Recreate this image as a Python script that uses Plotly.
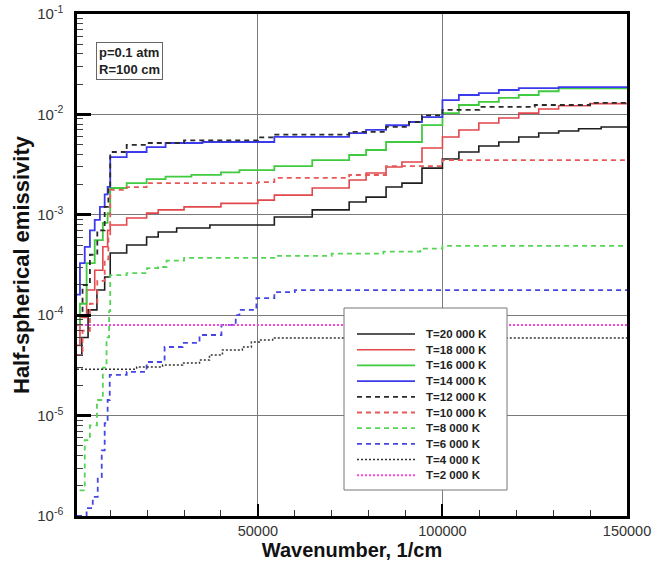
import plotly.graph_objects as go

# Half-spherical emissivity of a plasma slab (p = 0.1 atm, R = 100 cm)
# Each series is a step function: value holds from one wavenumber to the next.

t20_x = [1000, 2300, 4000, 6400, 8500, 10000, 14460, 19860, 23000, 28000, 37000, 54460, 64730,
         74730, 79320, 84730, 89030, 94460, 100000, 104460, 109860, 115270, 120680, 126080,
         131490, 136890, 143000, 150000]
t20_y = [4.0e-5, 6.0e-5, 1.13e-4, 1.78e-4, 2.4e-4, 4.17e-4, 5.0e-4, 6.0e-4, 6.74e-4, 7.39e-4,
         7.91e-4, 9.51e-4, 1.12e-3, 1.34e-3, 1.50e-3, 1.89e-3, 2.07e-3, 2.92e-3, 3.59e-3,
         4.22e-3, 4.84e-3, 5.31e-3, 5.96e-3, 6.53e-3, 6.84e-3, 7.2e-3, 7.49e-3, 7.49e-3]

t18_x = [1000, 1800, 3600, 5800, 8000, 9300, 10000, 14460, 19860, 23000, 30000, 40000, 50000,
         54460, 64730, 74730, 79320, 84730, 89030, 94460, 100000, 104460, 109860, 115270,
         120680, 126080, 131490, 140000, 150000]
t18_y = [5e-5, 9.5e-5, 1.78e-4, 2.8e-4, 4.8e-4, 7.0e-4, 7.91e-4, 9.29e-4, 1.04e-3, 1.12e-3,
         1.2e-3, 1.3e-3, 1.40e-3, 1.57e-3, 1.85e-3, 2.22e-3, 2.61e-3, 2.99e-3, 3.36e-3, 4.62e-3,
         5.96e-3, 7.0e-3, 8.2e-3, 9.2e-3, 1.03e-2, 1.13e-2, 1.22e-2, 1.28e-2, 1.28e-2]

t16_x = [1000, 1800, 3600, 5800, 8000, 9300, 10000, 14460, 19860, 25000, 32000, 40000, 45000,
         54460, 64730, 74730, 79320, 84730, 94460, 100000, 104460, 109860, 115270, 120680,
         126080, 131490, 150000]
t16_y = [8e-5, 1.3e-4, 3.3e-4, 5.6e-4, 8.3e-4, 1.04e-3, 1.85e-3, 2.07e-3, 2.27e-3, 2.4e-3,
         2.5e-3, 2.65e-3, 2.79e-3, 3.06e-3, 3.51e-3, 3.94e-3, 4.42e-3, 5.31e-3, 7.83e-3,
         1.03e-2, 1.24e-2, 1.33e-2, 1.46e-2, 1.56e-2, 1.70e-2, 1.82e-2, 1.82e-2]

t14_x = [1000, 1800, 3100, 4500, 5800, 7200, 8500, 9300, 10000, 14460, 19860, 25000, 35000,
         54460, 74730, 79320, 84730, 90950, 94460, 100000, 104460, 109860, 115270, 120680,
         131490, 150000]
t14_y = [1.6e-4, 3.3e-4, 4.8e-4, 7.0e-4, 8.9e-4, 1.2e-3, 1.6e-3, 1.9e-3, 3.76e-3, 4.22e-3,
         4.73e-3, 5.19e-3, 5.31e-3, 5.96e-3, 6.5e-3, 7.0e-3, 7.8e-3, 8.4e-3, 9.4e-3, 1.39e-2,
         1.56e-2, 1.63e-2, 1.75e-2, 1.83e-2, 1.87e-2, 1.87e-2]

t12_x = [1000, 2500, 4500, 6500, 8500, 9500, 10000, 14460, 19860, 30000, 50000, 54460, 74730,
         84730, 90950, 94460, 100000, 110000, 125000, 140000, 150000]
t12_y = [1.0e-4, 2e-4, 4e-4, 7e-4, 1.2e-3, 1.8e-3, 4.22e-3, 4.96e-3, 5.19e-3, 5.5e-3, 5.9e-3,
         6.3e-3, 6.7e-3, 7.5e-3, 8.4e-3, 9.8e-3, 1.11e-2, 1.19e-2, 1.24e-2, 1.3e-2, 1.3e-2]

t10_x = [1000, 2500, 4500, 6500, 8500, 9500, 10000, 14460, 19860, 50000, 54460, 74730, 84730,
         100000, 150000]
t10_y = [4e-5, 7e-5, 1.3e-4, 2.2e-4, 3.6e-4, 6e-4, 1.77e-3, 1.89e-3, 2.07e-3, 2.12e-3, 2.33e-3,
         2.49e-3, 3.06e-3, 3.51e-3, 3.51e-3]

t8_x = [1700, 3100, 4500, 6400, 8000, 9000, 9700, 10000, 14460, 20000, 23000, 25270, 30000,
        54460, 70000, 84000, 94000, 100000, 150000]
t8_y = [1.8e-6, 5.7e-6, 8e-6, 1.43e-5, 3.0e-5, 6.0e-5, 1.1e-4, 2.51e-4, 2.63e-4, 2.95e-4,
        3.02e-4, 3.5e-4, 3.72e-4, 3.9e-4, 4.1e-4, 4.3e-4, 4.6e-4, 4.9e-4, 4.9e-4]

t6_x = [1000, 3600, 5270, 6620, 7700, 8500, 9300, 9865, 14460, 19860, 24730, 29600, 34190,
        40130, 44000, 45000, 49600, 54460, 60000, 150000]
t6_y = [1e-6, 1.2e-6, 1.55e-6, 2.44e-6, 4.5e-6, 8.4e-6, 1.43e-5, 2.54e-5, 2.72e-5, 3.42e-5,
        4.82e-5, 5.3e-5, 6.35e-5, 8.0e-5, 1.0e-4, 1.13e-4, 1.48e-4, 1.70e-4, 1.78e-4, 1.78e-4]

t4_x = [1000, 17160, 24190, 29600, 34190, 36890, 40400, 45800, 48240, 50410, 54000, 150000]
t4_y = [2.9e-5, 3.05e-5, 3.19e-5, 3.34e-5, 3.58e-5, 4.02e-5, 4.5e-5, 4.82e-5, 5.41e-5, 5.66e-5,
        5.93e-5, 5.93e-5]

t2_x = [1000, 150000]
t2_y = [8e-5, 8e-5]

labels = ["T=20 000 K", "T=18 000 K", "T=16 000 K", "T=14 000 K", "T=12 000 K",
          "T=10 000 K", "T=8 000 K", "T=6 000 K", "T=4 000 K", "T=2 000 K"]

x_ticks = [50000, 100000, 150000]
x_ticktext = ["50000", "100000", "150000"]
y_ticks = [1e-6, 1e-5, 1e-4, 1e-3, 1e-2, 1e-1]
y_ticktext = ["10<sup>-6</sup>", "10<sup>-5</sup>", "10<sup>-4</sup>", "10<sup>-3</sup>",
              "10<sup>-2</sup>", "10<sup>-1</sup>"]

series = [(t20_x, t20_y), (t18_x, t18_y), (t16_x, t16_y), (t14_x, t14_y), (t12_x, t12_y),
          (t10_x, t10_y), (t8_x, t8_y), (t6_x, t6_y), (t4_x, t4_y), (t2_x, t2_y)]

styles = [
    dict(color="#1e1e1e", width=1.6, dash="solid"),
    dict(color="#e2474b", width=1.6, dash="solid"),
    dict(color="#3fca3f", width=1.8, dash="solid"),
    dict(color="#3b3bec", width=1.8, dash="solid"),
    dict(color="#2a2a2a", width=1.8, dash="5px,4px"),
    dict(color="#e85858", width=1.8, dash="5px,4px"),
    dict(color="#55d455", width=1.8, dash="5px,4px"),
    dict(color="#4646e4", width=1.8, dash="5px,4px"),
    dict(color="#333333", width=1.5, dash="2px,2px"),
    dict(color="#ff44dd", width=2.0, dash="2px,2px"),
]

FONT = "Liberation Sans, Arial, sans-serif"

fig = go.Figure()
for (xs, ys), name, st in zip(series, labels, styles):
    fig.add_trace(go.Scatter(x=xs, y=ys, mode="lines", name=name, line_shape="hv",
                             line=st, showlegend=False))

# Plot-area geometry in pixels (used for the legend box and annotation)
W, H = 659, 574
L, R, T, B = 77, 32, 14, 58
pw, ph = W - L - R, H - T - B


def px_x(p):
    return (p - L) / pw


def px_y(p):
    return (H - B - p) / ph


shapes = []
annotations = []

# legend frame
shapes.append(dict(type="rect", xref="paper", yref="paper",
                   x0=px_x(344), x1=px_x(507), y0=px_y(490), y1=px_y(308),
                   line=dict(color="#777777", width=1), fillcolor="white", layer="above"))
for i, (name, st) in enumerate(zip(labels, styles)):
    yy = px_y(334 + 15.7 * i)
    shapes.append(dict(type="line", xref="paper", yref="paper",
                       x0=px_x(357), x1=px_x(415), y0=yy, y1=yy,
                       line=dict(color=st["color"], width=st["width"], dash=st["dash"]),
                       layer="above"))
    annotations.append(dict(xref="paper", yref="paper", x=px_x(424), y=yy,
                            text="<b>" + name + "</b>",
                            showarrow=False, xanchor="left", yanchor="middle",
                            font=dict(family=FONT, size=11.5, color="#222222")))

# conditions box
annotations.append(dict(xref="paper", yref="paper", x=px_x(96), y=px_y(42),
                        text="<b>p=0.1 atm<br>R=100 cm</b>", showarrow=False,
                        xanchor="left", yanchor="top", align="left",
                        bordercolor="#666666", borderwidth=1, borderpad=2, bgcolor="white",
                        font=dict(family=FONT, size=13, color="#222222")))

fig.update_layout(
    width=W, height=H,
    margin=dict(l=L, r=R, t=T, b=B, pad=0, autoexpand=False),
    paper_bgcolor="white", plot_bgcolor="white",
    font=dict(family=FONT, color="#222222"),
    shapes=shapes, annotations=annotations,
    showlegend=False,
)

fig.update_xaxes(
    range=[1000, 150000], tickmode="array", tickvals=x_ticks, ticktext=x_ticktext,
    automargin=False,
    ticks="inside", ticklen=12, tickwidth=2, tickcolor="black",
    minor=dict(dtick=10000, tick0=0, ticks="inside", ticklen=6, tickwidth=1,
               tickcolor="#333333", showgrid=False),
    showgrid=True, gridcolor="#7a7a7a", gridwidth=1,
    showline=True, linecolor="black", linewidth=2.5, mirror=True,
    tickfont=dict(family=FONT, size=14.5, color="#333333"),
    title=dict(text="<b>Wavenumber, 1/cm</b>", font=dict(family=FONT, size=20, color="#111111"),
               standoff=4),
    zeroline=False,
)

fig.update_yaxes(
    type="log", range=[-6, -1], tickmode="array", tickvals=y_ticks, ticktext=y_ticktext,
    automargin=False,
    ticks="inside", ticklen=14, tickwidth=3, tickcolor="black",
    minor=dict(dtick="D1", ticks="inside", ticklen=6, tickwidth=1, tickcolor="#444444",
               showgrid=False),
    showgrid=True, gridcolor="#7a7a7a", gridwidth=1,
    showline=True, linecolor="black", linewidth=2.5, mirror=True,
    tickfont=dict(family=FONT, size=15, color="#333333"),
    ticklabelstandoff=8,
    title=dict(text="<b>Half-spherical emissivity</b>",
               font=dict(family=FONT, size=22, color="#111111"), standoff=2),
    zeroline=False,
)

fig.write_html("out.html")
